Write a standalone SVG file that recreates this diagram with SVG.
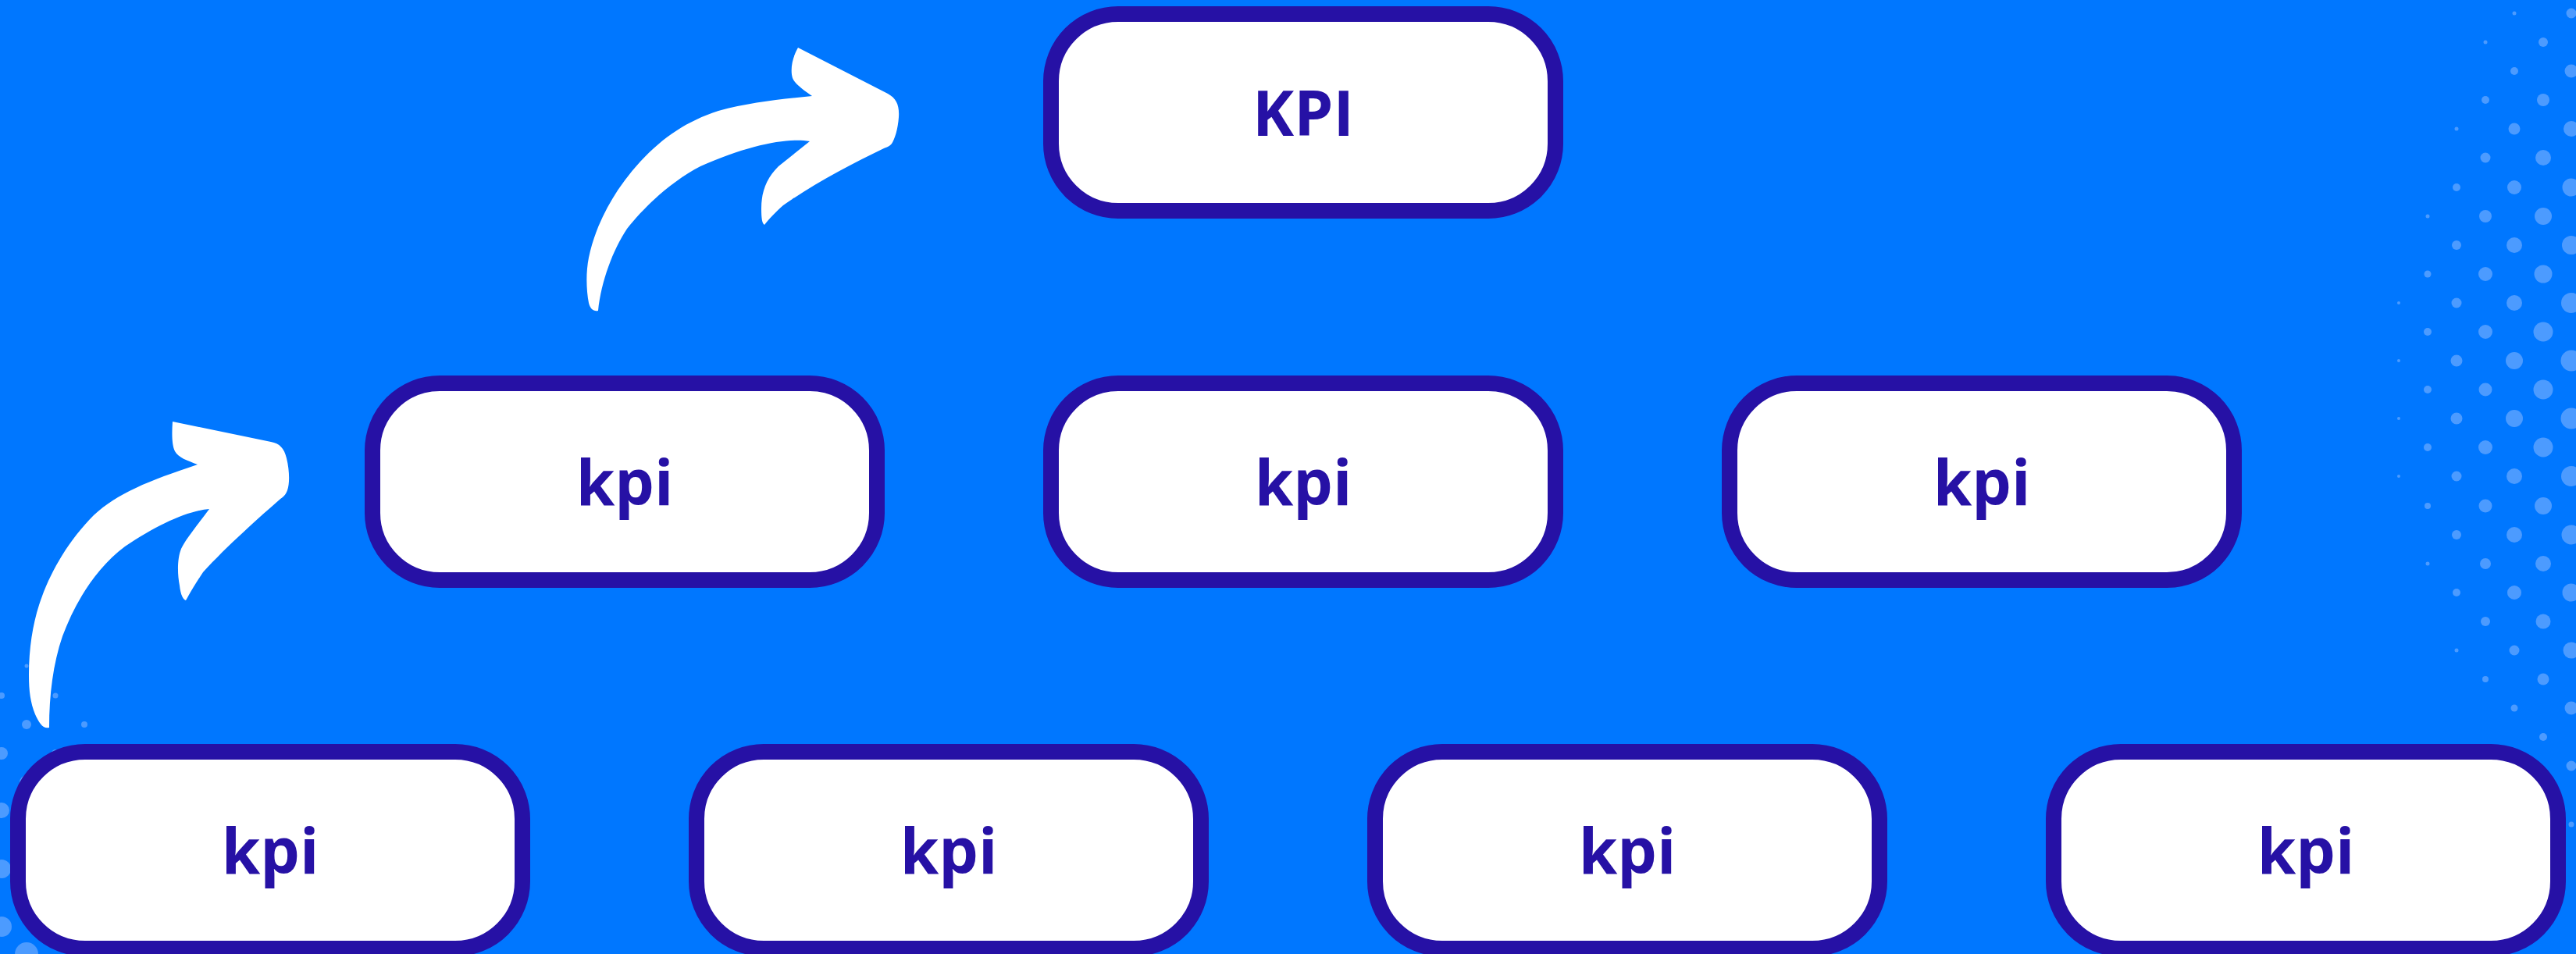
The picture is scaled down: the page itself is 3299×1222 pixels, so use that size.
<svg xmlns="http://www.w3.org/2000/svg" width="3299" height="1222" viewBox="0 0 3299 1222">
<defs>
<style>
.box{fill:#FFFFFF;stroke:#2611A5;stroke-width:20}
.lbl{font-family:"Open Sans","Noto Sans","DejaVu Sans",sans-serif;font-weight:700;font-size:80px;fill:#2611A5;text-anchor:middle}
.dot{fill:#4C9BFF}
.arrow{fill:#FFFFFF}
</style>
</defs>
<rect x="0" y="0" width="3299" height="1222" fill="#0077FF"/>
<g id="dots-right">
<circle class="dot" cx="3293" cy="17" r="6.5"/><circle class="dot" cx="3293" cy="91" r="8.5"/><circle class="dot" cx="3293" cy="165" r="10"/><circle class="dot" cx="3293" cy="240" r="11.5"/><circle class="dot" cx="3293" cy="314" r="12"/><circle class="dot" cx="3293" cy="388" r="13"/><circle class="dot" cx="3293" cy="462" r="13.5"/><circle class="dot" cx="3293" cy="536" r="13.5"/><circle class="dot" cx="3293" cy="610" r="13"/><circle class="dot" cx="3293" cy="685" r="12.5"/><circle class="dot" cx="3293" cy="759" r="11.5"/><circle class="dot" cx="3293" cy="833" r="10.5"/><circle class="dot" cx="3293" cy="907" r="8.5"/><circle class="dot" cx="3293" cy="981" r="6.5"/><circle class="dot" cx="3293" cy="1056" r="3.5"/>
<circle class="dot" cx="3257" cy="54" r="6"/><circle class="dot" cx="3257" cy="128" r="8"/><circle class="dot" cx="3257" cy="202" r="10"/><circle class="dot" cx="3257" cy="277" r="11"/><circle class="dot" cx="3257" cy="351" r="11.5"/><circle class="dot" cx="3257" cy="425" r="12.5"/><circle class="dot" cx="3257" cy="499" r="12.5"/><circle class="dot" cx="3257" cy="573" r="12.5"/><circle class="dot" cx="3257" cy="648" r="11"/><circle class="dot" cx="3257" cy="722" r="10"/><circle class="dot" cx="3257" cy="796" r="9.5"/><circle class="dot" cx="3257" cy="870" r="7.5"/><circle class="dot" cx="3257" cy="944" r="5"/>
<circle class="dot" cx="3220" cy="17" r="2.5"/><circle class="dot" cx="3220" cy="91" r="5"/><circle class="dot" cx="3220" cy="165" r="7.5"/><circle class="dot" cx="3220" cy="240" r="9"/><circle class="dot" cx="3220" cy="314" r="10"/><circle class="dot" cx="3220" cy="388" r="10"/><circle class="dot" cx="3220" cy="462" r="11"/><circle class="dot" cx="3220" cy="536" r="11"/><circle class="dot" cx="3220" cy="610" r="10"/><circle class="dot" cx="3220" cy="685" r="10"/><circle class="dot" cx="3220" cy="759" r="9"/><circle class="dot" cx="3220" cy="833" r="6.5"/><circle class="dot" cx="3220" cy="907" r="4.5"/>
<circle class="dot" cx="3183" cy="54" r="2.5"/><circle class="dot" cx="3183" cy="128" r="5"/><circle class="dot" cx="3183" cy="202" r="6.5"/><circle class="dot" cx="3183" cy="277" r="8"/><circle class="dot" cx="3183" cy="351" r="9"/><circle class="dot" cx="3183" cy="425" r="9"/><circle class="dot" cx="3183" cy="499" r="8.5"/><circle class="dot" cx="3183" cy="573" r="9"/><circle class="dot" cx="3183" cy="648" r="8.5"/><circle class="dot" cx="3183" cy="722" r="7"/><circle class="dot" cx="3183" cy="796" r="6"/><circle class="dot" cx="3183" cy="870" r="4"/>
<circle class="dot" cx="3146" cy="165" r="2.5"/><circle class="dot" cx="3146" cy="240" r="5"/><circle class="dot" cx="3146" cy="314" r="6"/><circle class="dot" cx="3146" cy="388" r="6.5"/><circle class="dot" cx="3146" cy="462" r="7.5"/><circle class="dot" cx="3146" cy="536" r="7.5"/><circle class="dot" cx="3146" cy="610" r="6.5"/><circle class="dot" cx="3146" cy="685" r="6"/><circle class="dot" cx="3146" cy="759" r="5"/><circle class="dot" cx="3146" cy="833" r="2.5"/>
<circle class="dot" cx="3109" cy="277" r="2.5"/><circle class="dot" cx="3109" cy="351" r="4.5"/><circle class="dot" cx="3109" cy="425" r="5"/><circle class="dot" cx="3109" cy="499" r="5"/><circle class="dot" cx="3109" cy="573" r="5"/><circle class="dot" cx="3109" cy="648" r="4"/><circle class="dot" cx="3109" cy="722" r="2.5"/>
<circle class="dot" cx="3072" cy="388" r="2"/><circle class="dot" cx="3072" cy="462" r="2"/><circle class="dot" cx="3072" cy="536" r="2"/><circle class="dot" cx="3072" cy="610" r="2"/>
</g>
<g id="dots-left">
<circle class="dot" cx="34" cy="853" r="2.5"/><circle class="dot" cx="71" cy="891" r="3.5"/><circle class="dot" cx="2" cy="891" r="4"/><circle class="dot" cx="34" cy="928" r="6"/><circle class="dot" cx="108" cy="928" r="4"/><circle class="dot" cx="71" cy="965" r="5"/><circle class="dot" cx="2" cy="965" r="8"/><circle class="dot" cx="34" cy="1002" r="9"/><circle class="dot" cx="2" cy="1038" r="10"/><circle class="dot" cx="34" cy="1076" r="11"/><circle class="dot" cx="2" cy="1113" r="12"/><circle class="dot" cx="34" cy="1150" r="12"/><circle class="dot" cx="2" cy="1187" r="13"/><circle class="dot" cx="34" cy="1222" r="15"/>
</g>
<g id="connectors">
<path class="arrow" d="M 63 932 C 55 934 50 926 45 915 C 39 900 37 885 37 865 C 37 830 42 800 50 775 C 62 738 85 695 120 660 C 150 632 190 616 253 595 C 240 590 228 586 224 578 C 220 570 220 555 221 540 L 347 566 C 358 568 364 574 367 587 C 371 603 371 620 368 628 C 366 634 362 637 358 640 C 335 660 290 700 260 733 C 250 748 243 760 238 769 C 234 768 231 760 230 750 C 227 735 227 715 232 703 C 238 690 255 670 268 652 C 240 654 200 673 160 700 C 120 730 95 775 80 815 C 68 850 63 890 63 932 Z"/>
<path class="arrow" d="M 766 398 C 760 399 756 396 754 388 C 751 372 750 350 754 330 C 762 290 785 245 820 207 C 850 175 880 155 920 142 C 960 131 1000 127 1040 123 C 1030 116 1018 108 1015 100 C 1012 90 1014 75 1022 61 L 1137 120 C 1148 126 1152 135 1151 150 C 1150 165 1146 178 1142 184 C 1140 187 1135 189 1132 190 C 1090 210 1040 237 1003 263 C 995 270 985 280 979 288 C 976 286 975 280 975 267 C 975 245 982 228 997 213 L 1037 181 C 1010 176 960 185 897 213 C 860 232 825 265 803 293 C 785 320 770 360 766 398 Z"/>
</g>
<g id="node-top">
<rect class="box" x="1346" y="18" width="646" height="252" rx="86" ry="86"/>
<text class="lbl" x="1669" y="174">KPI</text>
</g>
<g id="node-mid-1">
<rect class="box" x="477" y="491" width="646" height="252" rx="86" ry="86"/>
<text class="lbl" x="800" y="647">kpi</text>
</g>
<g id="node-mid-2">
<rect class="box" x="1346" y="491" width="646" height="252" rx="86" ry="86"/>
<text class="lbl" x="1669" y="647">kpi</text>
</g>
<g id="node-mid-3">
<rect class="box" x="2215" y="491" width="646" height="252" rx="86" ry="86"/>
<text class="lbl" x="2538" y="647">kpi</text>
</g>
<g id="node-bot-1">
<rect class="box" x="23" y="963" width="646" height="252" rx="86" ry="86"/>
<text class="lbl" x="346" y="1119">kpi</text>
</g>
<g id="node-bot-2">
<rect class="box" x="892" y="963" width="646" height="252" rx="86" ry="86"/>
<text class="lbl" x="1215" y="1119">kpi</text>
</g>
<g id="node-bot-3">
<rect class="box" x="1761" y="963" width="646" height="252" rx="86" ry="86"/>
<text class="lbl" x="2084" y="1119">kpi</text>
</g>
<g id="node-bot-4">
<rect class="box" x="2630" y="963" width="646" height="252" rx="86" ry="86"/>
<text class="lbl" x="2953" y="1119">kpi</text>
</g>
</svg>
